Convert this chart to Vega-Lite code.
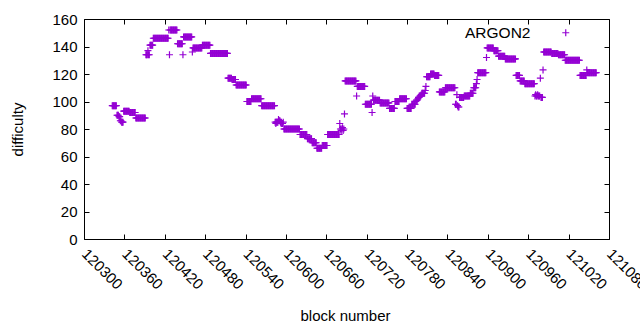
{
"$schema":"https://vega.github.io/schema/vega-lite/v6.json",
"width":525,"height":220,
"autosize":{"type":"none"},
"padding":{"left":84,"top":19,"right":31,"bottom":91},
"background":"white",
"config":{"view":{"stroke":"black","strokeWidth":1},"font":"Liberation Sans"},
"data":{"values":[
{"b":120342,"d":97},{"b":120343,"d":97},{"b":120344,"d":97},{"b":120345,"d":97},{"b":120346,"d":97},{"b":120347,"d":97},{"b":120348,"d":97},
{"b":120349,"d":90},{"b":120350,"d":90},{"b":120351,"d":90},{"b":120352,"d":89},{"b":120353,"d":89},{"b":120354,"d":86},{"b":120355,"d":86},{"b":120356,"d":85},{"b":120357,"d":85},{"b":120358,"d":85},
{"b":120359,"d":93},{"b":120360,"d":93},{"b":120361,"d":93},{"b":120362,"d":93},{"b":120363,"d":93},{"b":120364,"d":93},{"b":120365,"d":93},{"b":120366,"d":93},{"b":120367,"d":93},
{"b":120368,"d":92},{"b":120369,"d":92},{"b":120370,"d":92},{"b":120371,"d":92},{"b":120372,"d":92},{"b":120373,"d":92},{"b":120374,"d":92},{"b":120375,"d":92},{"b":120376,"d":92},
{"b":120377,"d":88},{"b":120378,"d":88},{"b":120379,"d":88},{"b":120380,"d":88},{"b":120381,"d":88},{"b":120382,"d":88},{"b":120383,"d":88},{"b":120384,"d":88},{"b":120385,"d":88},{"b":120386,"d":88},{"b":120387,"d":88},{"b":120388,"d":88},{"b":120389,"d":88},{"b":120390,"d":88},{"b":120391,"d":88},
{"b":120392,"d":134},{"b":120393,"d":134},{"b":120394,"d":134},{"b":120395,"d":137},{"b":120396,"d":134},{"b":120397,"d":134},
{"b":120398,"d":141},{"b":120399,"d":141},{"b":120400,"d":141},{"b":120401,"d":141},{"b":120402,"d":141},
{"b":120403,"d":146},{"b":120404,"d":146},{"b":120405,"d":146},{"b":120406,"d":146},{"b":120407,"d":146},{"b":120408,"d":146},{"b":120409,"d":146},{"b":120410,"d":146},{"b":120411,"d":146},{"b":120412,"d":146},{"b":120413,"d":146},{"b":120414,"d":146},{"b":120415,"d":146},{"b":120416,"d":146},{"b":120417,"d":146},{"b":120418,"d":146},{"b":120419,"d":146},{"b":120420,"d":146},{"b":120421,"d":146},{"b":120422,"d":146},{"b":120423,"d":146},{"b":120424,"d":146},{"b":120425,"d":146},
{"b":120426,"d":152},{"b":120427,"d":134},
{"b":120428,"d":152},{"b":120429,"d":152},{"b":120430,"d":152},{"b":120431,"d":152},{"b":120432,"d":152},{"b":120433,"d":152},{"b":120434,"d":152},{"b":120435,"d":152},{"b":120436,"d":152},{"b":120437,"d":152},{"b":120438,"d":152},
{"b":120439,"d":142},{"b":120440,"d":142},{"b":120441,"d":142},{"b":120442,"d":142},{"b":120443,"d":142},{"b":120444,"d":142},{"b":120445,"d":142},{"b":120446,"d":142},
{"b":120447,"d":134},
{"b":120448,"d":147},{"b":120449,"d":147},{"b":120450,"d":147},{"b":120451,"d":147},{"b":120452,"d":147},{"b":120453,"d":147},{"b":120454,"d":147},{"b":120455,"d":147},{"b":120456,"d":147},{"b":120457,"d":147},{"b":120458,"d":147},{"b":120459,"d":147},{"b":120460,"d":147},
{"b":120461,"d":136},
{"b":120462,"d":139},{"b":120463,"d":139},{"b":120464,"d":139},{"b":120465,"d":139},{"b":120466,"d":139},{"b":120467,"d":139},{"b":120468,"d":139},{"b":120469,"d":139},{"b":120470,"d":139},{"b":120471,"d":139},{"b":120472,"d":139},{"b":120473,"d":139},{"b":120474,"d":139},{"b":120475,"d":139},
{"b":120476,"d":141},{"b":120477,"d":141},{"b":120478,"d":141},{"b":120479,"d":141},{"b":120480,"d":141},{"b":120481,"d":141},{"b":120482,"d":141},{"b":120483,"d":141},{"b":120484,"d":141},{"b":120485,"d":141},{"b":120486,"d":141},{"b":120487,"d":141},
{"b":120488,"d":135},{"b":120489,"d":135},{"b":120490,"d":135},{"b":120491,"d":135},{"b":120492,"d":135},{"b":120493,"d":135},{"b":120494,"d":135},{"b":120495,"d":135},{"b":120496,"d":135},{"b":120497,"d":135},{"b":120498,"d":135},{"b":120499,"d":135},{"b":120500,"d":135},{"b":120501,"d":135},{"b":120502,"d":135},{"b":120503,"d":135},{"b":120504,"d":135},{"b":120505,"d":135},{"b":120506,"d":135},{"b":120507,"d":135},{"b":120508,"d":135},{"b":120509,"d":135},{"b":120510,"d":135},{"b":120511,"d":135},{"b":120512,"d":135},{"b":120513,"d":135},
{"b":120514,"d":117},{"b":120515,"d":117},{"b":120516,"d":117},{"b":120517,"d":117},{"b":120518,"d":117},{"b":120519,"d":117},
{"b":120520,"d":116},{"b":120521,"d":116},{"b":120522,"d":116},{"b":120523,"d":116},{"b":120524,"d":116},{"b":120525,"d":116},
{"b":120526,"d":112},{"b":120527,"d":112},{"b":120528,"d":112},{"b":120529,"d":112},{"b":120530,"d":112},{"b":120531,"d":112},{"b":120532,"d":112},{"b":120533,"d":112},{"b":120534,"d":112},{"b":120535,"d":112},{"b":120536,"d":112},{"b":120537,"d":112},{"b":120538,"d":112},{"b":120539,"d":112},{"b":120540,"d":112},{"b":120541,"d":112},
{"b":120542,"d":100},{"b":120543,"d":100},{"b":120544,"d":100},{"b":120545,"d":100},{"b":120546,"d":100},{"b":120547,"d":100},{"b":120548,"d":100},
{"b":120549,"d":102},{"b":120550,"d":102},{"b":120551,"d":102},{"b":120552,"d":102},{"b":120553,"d":102},{"b":120554,"d":102},{"b":120555,"d":102},{"b":120556,"d":102},{"b":120557,"d":102},{"b":120558,"d":102},{"b":120559,"d":102},{"b":120560,"d":102},{"b":120561,"d":102},{"b":120562,"d":102},{"b":120563,"d":102},
{"b":120564,"d":97},{"b":120565,"d":97},{"b":120566,"d":97},{"b":120567,"d":97},{"b":120568,"d":97},{"b":120569,"d":97},{"b":120570,"d":97},{"b":120571,"d":97},{"b":120572,"d":97},{"b":120573,"d":97},{"b":120574,"d":97},{"b":120575,"d":97},{"b":120576,"d":97},{"b":120577,"d":97},{"b":120578,"d":97},{"b":120579,"d":97},{"b":120580,"d":97},{"b":120581,"d":97},{"b":120582,"d":97},{"b":120583,"d":97},
{"b":120584,"d":85},{"b":120585,"d":84},{"b":120586,"d":85},{"b":120587,"d":85},{"b":120588,"d":85},{"b":120589,"d":87},{"b":120590,"d":86},{"b":120591,"d":86},{"b":120592,"d":85},{"b":120593,"d":84},{"b":120594,"d":84},{"b":120595,"d":84},{"b":120596,"d":85},
{"b":120597,"d":80},{"b":120598,"d":80},{"b":120599,"d":80},{"b":120600,"d":80},{"b":120601,"d":80},{"b":120602,"d":80},{"b":120603,"d":80},{"b":120604,"d":80},{"b":120605,"d":80},{"b":120606,"d":80},{"b":120607,"d":80},{"b":120608,"d":80},{"b":120609,"d":80},{"b":120610,"d":80},{"b":120611,"d":80},{"b":120612,"d":80},{"b":120613,"d":80},{"b":120614,"d":80},{"b":120615,"d":80},{"b":120616,"d":80},{"b":120617,"d":80},{"b":120618,"d":80},{"b":120619,"d":80},{"b":120620,"d":80},
{"b":120621,"d":76},{"b":120622,"d":76},{"b":120623,"d":76},{"b":120624,"d":76},{"b":120625,"d":76},{"b":120626,"d":76},{"b":120627,"d":76},{"b":120628,"d":76},{"b":120629,"d":76},{"b":120630,"d":76},{"b":120631,"d":76},
{"b":120632,"d":73},{"b":120633,"d":73},{"b":120634,"d":73},{"b":120635,"d":73},{"b":120636,"d":73},{"b":120637,"d":73},{"b":120638,"d":73},
{"b":120639,"d":70},{"b":120640,"d":70},{"b":120641,"d":70},{"b":120642,"d":70},{"b":120643,"d":70},{"b":120644,"d":70},{"b":120645,"d":70},
{"b":120646,"d":66},{"b":120647,"d":66},{"b":120648,"d":66},{"b":120649,"d":66},{"b":120650,"d":66},{"b":120651,"d":66},{"b":120652,"d":66},{"b":120653,"d":66},
{"b":120654,"d":68},{"b":120655,"d":68},{"b":120656,"d":68},{"b":120657,"d":68},{"b":120658,"d":68},{"b":120659,"d":68},{"b":120660,"d":68},{"b":120661,"d":68},
{"b":120662,"d":76},{"b":120663,"d":76},{"b":120664,"d":76},{"b":120665,"d":76},{"b":120666,"d":76},{"b":120667,"d":76},{"b":120668,"d":76},{"b":120669,"d":76},{"b":120670,"d":76},{"b":120671,"d":76},{"b":120672,"d":76},{"b":120673,"d":76},{"b":120674,"d":76},{"b":120675,"d":76},{"b":120676,"d":76},{"b":120677,"d":76},{"b":120678,"d":76},{"b":120679,"d":76},
{"b":120680,"d":84},{"b":120681,"d":80},{"b":120682,"d":79},{"b":120683,"d":80},{"b":120684,"d":81},{"b":120685,"d":79},{"b":120686,"d":80},{"b":120687,"d":91},
{"b":120688,"d":115},{"b":120689,"d":115},{"b":120690,"d":115},{"b":120691,"d":115},{"b":120692,"d":115},{"b":120693,"d":115},{"b":120694,"d":115},{"b":120695,"d":115},{"b":120696,"d":115},{"b":120697,"d":115},{"b":120698,"d":115},{"b":120699,"d":115},{"b":120700,"d":115},{"b":120701,"d":115},{"b":120702,"d":115},{"b":120703,"d":115},{"b":120704,"d":115},
{"b":120705,"d":104},
{"b":120706,"d":111},{"b":120707,"d":111},{"b":120708,"d":111},{"b":120709,"d":111},{"b":120710,"d":111},{"b":120711,"d":111},{"b":120712,"d":111},{"b":120713,"d":111},{"b":120714,"d":111},{"b":120715,"d":111},{"b":120716,"d":111},{"b":120717,"d":111},
{"b":120718,"d":98},{"b":120719,"d":98},{"b":120720,"d":98},{"b":120721,"d":98},{"b":120722,"d":98},{"b":120723,"d":98},{"b":120724,"d":98},{"b":120725,"d":98},{"b":120726,"d":98},{"b":120727,"d":98},
{"b":120728,"d":92},{"b":120729,"d":104},
{"b":120730,"d":101},{"b":120731,"d":101},{"b":120732,"d":101},{"b":120733,"d":101},{"b":120734,"d":101},{"b":120735,"d":101},{"b":120736,"d":101},{"b":120737,"d":101},{"b":120738,"d":101},{"b":120739,"d":101},
{"b":120740,"d":99},{"b":120741,"d":99},{"b":120742,"d":99},{"b":120743,"d":99},{"b":120744,"d":99},{"b":120745,"d":99},{"b":120746,"d":99},{"b":120747,"d":99},{"b":120748,"d":99},{"b":120749,"d":99},{"b":120750,"d":99},{"b":120751,"d":99},{"b":120752,"d":99},{"b":120753,"d":99},
{"b":120754,"d":95},{"b":120755,"d":95},{"b":120756,"d":95},{"b":120757,"d":95},{"b":120758,"d":95},{"b":120759,"d":95},{"b":120760,"d":95},{"b":120761,"d":95},
{"b":120762,"d":100},{"b":120763,"d":100},{"b":120764,"d":100},{"b":120765,"d":100},{"b":120766,"d":100},{"b":120767,"d":100},{"b":120768,"d":100},
{"b":120769,"d":102},{"b":120770,"d":102},{"b":120771,"d":102},{"b":120772,"d":102},{"b":120773,"d":102},{"b":120774,"d":102},{"b":120775,"d":102},{"b":120776,"d":102},{"b":120777,"d":102},{"b":120778,"d":102},{"b":120779,"d":102},
{"b":120780,"d":95},{"b":120781,"d":95},{"b":120782,"d":95},{"b":120783,"d":95},{"b":120784,"d":95},{"b":120785,"d":95},{"b":120786,"d":95},
{"b":120787,"d":98},{"b":120788,"d":98},{"b":120789,"d":98},{"b":120790,"d":98},{"b":120791,"d":98},{"b":120792,"d":98},
{"b":120793,"d":100},{"b":120794,"d":101},{"b":120795,"d":101},{"b":120796,"d":102},{"b":120797,"d":103},{"b":120798,"d":103},{"b":120799,"d":104},{"b":120800,"d":104},{"b":120801,"d":105},
{"b":120802,"d":106},{"b":120803,"d":106},{"b":120804,"d":106},{"b":120805,"d":106},{"b":120806,"d":106},
{"b":120807,"d":108},{"b":120808,"d":111},
{"b":120809,"d":118},{"b":120810,"d":118},{"b":120811,"d":118},{"b":120812,"d":118},{"b":120813,"d":118},{"b":120814,"d":118},
{"b":120815,"d":120},{"b":120816,"d":120},{"b":120817,"d":120},{"b":120818,"d":120},{"b":120819,"d":120},{"b":120820,"d":120},
{"b":120821,"d":119},{"b":120822,"d":119},{"b":120823,"d":119},{"b":120824,"d":119},{"b":120825,"d":119},{"b":120826,"d":119},{"b":120827,"d":119},
{"b":120828,"d":107},{"b":120829,"d":107},{"b":120830,"d":107},{"b":120831,"d":107},{"b":120832,"d":107},{"b":120833,"d":107},{"b":120834,"d":107},{"b":120835,"d":107},{"b":120836,"d":107},
{"b":120837,"d":110},{"b":120838,"d":110},{"b":120839,"d":110},{"b":120840,"d":110},{"b":120841,"d":110},{"b":120842,"d":110},{"b":120843,"d":110},{"b":120844,"d":110},{"b":120845,"d":110},{"b":120846,"d":110},{"b":120847,"d":110},{"b":120848,"d":110},{"b":120849,"d":110},{"b":120850,"d":110},{"b":120851,"d":110},
{"b":120852,"d":98},{"b":120853,"d":98},{"b":120854,"d":105},{"b":120855,"d":97},{"b":120856,"d":96},{"b":120857,"d":96},
{"b":120858,"d":103},{"b":120859,"d":103},{"b":120860,"d":103},{"b":120861,"d":103},{"b":120862,"d":103},{"b":120863,"d":103},{"b":120864,"d":103},
{"b":120865,"d":104},{"b":120866,"d":104},{"b":120867,"d":104},{"b":120868,"d":104},{"b":120869,"d":104},{"b":120870,"d":104},{"b":120871,"d":104},{"b":120872,"d":104},{"b":120873,"d":104},
{"b":120874,"d":106},{"b":120875,"d":106},{"b":120876,"d":106},{"b":120877,"d":106},{"b":120878,"d":106},
{"b":120879,"d":110},{"b":120880,"d":110},{"b":120881,"d":110},{"b":120882,"d":110},
{"b":120883,"d":113},{"b":120884,"d":116},
{"b":120885,"d":121},{"b":120886,"d":121},{"b":120887,"d":121},{"b":120888,"d":121},{"b":120889,"d":121},{"b":120890,"d":121},{"b":120891,"d":121},{"b":120892,"d":121},{"b":120893,"d":121},{"b":120894,"d":121},{"b":120895,"d":121},{"b":120896,"d":121},{"b":120897,"d":121},
{"b":120898,"d":132},
{"b":120899,"d":139},{"b":120900,"d":139},{"b":120901,"d":139},{"b":120902,"d":139},{"b":120903,"d":139},{"b":120904,"d":139},{"b":120905,"d":139},{"b":120906,"d":139},{"b":120907,"d":139},{"b":120908,"d":139},
{"b":120909,"d":137},{"b":120910,"d":137},{"b":120911,"d":137},{"b":120912,"d":137},{"b":120913,"d":137},{"b":120914,"d":137},{"b":120915,"d":137},
{"b":120916,"d":133},{"b":120917,"d":133},{"b":120918,"d":133},{"b":120919,"d":133},{"b":120920,"d":133},{"b":120921,"d":133},{"b":120922,"d":133},{"b":120923,"d":133},{"b":120924,"d":133},{"b":120925,"d":133},
{"b":120926,"d":131},{"b":120927,"d":131},{"b":120928,"d":131},{"b":120929,"d":131},{"b":120930,"d":131},{"b":120931,"d":131},{"b":120932,"d":131},{"b":120933,"d":131},{"b":120934,"d":131},{"b":120935,"d":131},{"b":120936,"d":131},{"b":120937,"d":131},{"b":120938,"d":131},{"b":120939,"d":131},{"b":120940,"d":131},{"b":120941,"d":131},
{"b":120942,"d":119},{"b":120943,"d":119},{"b":120944,"d":119},{"b":120945,"d":119},{"b":120946,"d":119},{"b":120947,"d":119},
{"b":120948,"d":115},{"b":120949,"d":115},{"b":120950,"d":115},{"b":120951,"d":115},{"b":120952,"d":115},{"b":120953,"d":115},{"b":120954,"d":115},
{"b":120955,"d":113},{"b":120956,"d":113},{"b":120957,"d":113},{"b":120958,"d":113},{"b":120959,"d":113},{"b":120960,"d":113},{"b":120961,"d":113},{"b":120962,"d":113},{"b":120963,"d":113},{"b":120964,"d":113},{"b":120965,"d":113},{"b":120966,"d":113},{"b":120967,"d":113},{"b":120968,"d":113},{"b":120969,"d":113},
{"b":120970,"d":104},{"b":120971,"d":105},{"b":120972,"d":104},{"b":120973,"d":104},{"b":120974,"d":105},{"b":120975,"d":104},{"b":120976,"d":104},{"b":120977,"d":104},
{"b":120978,"d":117},{"b":120979,"d":103},{"b":120980,"d":103},{"b":120981,"d":103},{"b":120982,"d":123},
{"b":120983,"d":136},{"b":120984,"d":136},{"b":120985,"d":136},{"b":120986,"d":136},{"b":120987,"d":136},{"b":120988,"d":136},{"b":120989,"d":136},{"b":120990,"d":136},{"b":120991,"d":136},{"b":120992,"d":136},{"b":120993,"d":136},{"b":120994,"d":136},
{"b":120995,"d":135},{"b":120996,"d":135},{"b":120997,"d":135},{"b":120998,"d":135},{"b":120999,"d":135},{"b":121000,"d":135},{"b":121001,"d":135},{"b":121002,"d":135},{"b":121003,"d":135},{"b":121004,"d":135},
{"b":121005,"d":134},{"b":121006,"d":134},{"b":121007,"d":134},{"b":121008,"d":134},{"b":121009,"d":134},{"b":121010,"d":134},{"b":121011,"d":134},{"b":121012,"d":134},{"b":121013,"d":134},{"b":121014,"d":134},
{"b":121015,"d":130},{"b":121016,"d":130},{"b":121017,"d":130},{"b":121018,"d":130},{"b":121019,"d":130},{"b":121020,"d":130},{"b":121021,"d":130},{"b":121022,"d":130},{"b":121023,"d":130},{"b":121024,"d":130},{"b":121025,"d":130},{"b":121026,"d":130},{"b":121027,"d":130},{"b":121028,"d":130},{"b":121029,"d":130},{"b":121030,"d":130},{"b":121031,"d":130},{"b":121032,"d":130},{"b":121033,"d":130},{"b":121034,"d":130},{"b":121035,"d":130},{"b":121036,"d":130},
{"b":121037,"d":119},{"b":121038,"d":119},{"b":121039,"d":119},{"b":121040,"d":119},{"b":121041,"d":119},{"b":121042,"d":119},{"b":121043,"d":119},{"b":121044,"d":119},{"b":121045,"d":119},{"b":121046,"d":119},
{"b":121047,"d":123},
{"b":121048,"d":121},{"b":121049,"d":121},{"b":121050,"d":121},{"b":121051,"d":121},{"b":121052,"d":121},{"b":121053,"d":121},{"b":121054,"d":121},{"b":121055,"d":121},{"b":121056,"d":121},{"b":121057,"d":121},{"b":121058,"d":121},{"b":121059,"d":121},{"b":121060,"d":121},{"b":121061,"d":121}
]},
"layer":[
{"mark":{"type":"point","shape":"M-1,0H1M0,-1V1","filled":false,"strokeWidth":1.2,"size":49,"opacity":1},
 "encoding":{
  "x":{"field":"b","type":"quantitative","scale":{"domain":[120300,121080],"nice":false,"zero":false},
   "axis":{"values":[120300,120360,120420,120480,120540,120600,120660,120720,120780,120840,120900,120960,121020,121080],"format":"d",
    "labelAngle":45,"labelAlign":"left","labelBaseline":"middle","labelPadding":17,"labelFontSize":15,"labelColor":"black","labelOverlap":false,"labelFlush":false,"labelBound":false,
    "tickColor":"black","tickSize":-5,"domain":false,"grid":false,
    "title":"block number","titleFontSize":15,"titleFontWeight":"normal","titleColor":"black","titleX":261,"titleY":76,"titleBaseline":"middle","titleAlign":"center"}},
  "y":{"field":"d","type":"quantitative","scale":{"domain":[0,160],"nice":false},
   "axis":{"values":[0,20,40,60,80,100,120,140,160],"labelFontSize":15,"labelColor":"black","labelPadding":12,"labelFlush":false,"labelOverlap":false,
    "tickColor":"black","tickSize":-5,"domain":false,"grid":false,
    "title":"difficulty","titleFontSize":15,"titleFontWeight":"normal","titleColor":"black","titleAngle":-90,"titleX":-67,"titleY":110,"titleBaseline":"middle","titleAlign":"center"}},
  "color":{"datum":"ARGON2","type":"nominal","scale":{"range":["#9400D3"]},
   "legend":{"title":null,"orient":"none","legendX":474,"legendY":6,"symbolType":"M-1,0H1M0,-1V1","symbolSize":49,"symbolStrokeWidth":1.2,"symbolFillColor":"transparent","symbolStrokeColor":"#9400D3","labelFontSize":15.5,"labelColor":"black","labelAlign":"right","labelOffset":-43,"padding":0}}
 }},
{"mark":{"type":"point","opacity":0},
 "encoding":{
  "x":{"field":"b","type":"quantitative","axis":{"orient":"top","values":[120300,120360,120420,120480,120540,120600,120660,120720,120780,120840,120900,120960,121020,121080],"labels":false,"title":null,"tickColor":"black","tickSize":-5,"domain":false,"grid":false}},
  "y":{"field":"d","type":"quantitative","axis":{"orient":"right","values":[0,20,40,60,80,100,120,140,160],"labels":false,"title":null,"tickColor":"black","tickSize":-5,"domain":false,"grid":false}}
 }}
],
"resolve":{"axis":{"x":"independent","y":"independent"}}
}
